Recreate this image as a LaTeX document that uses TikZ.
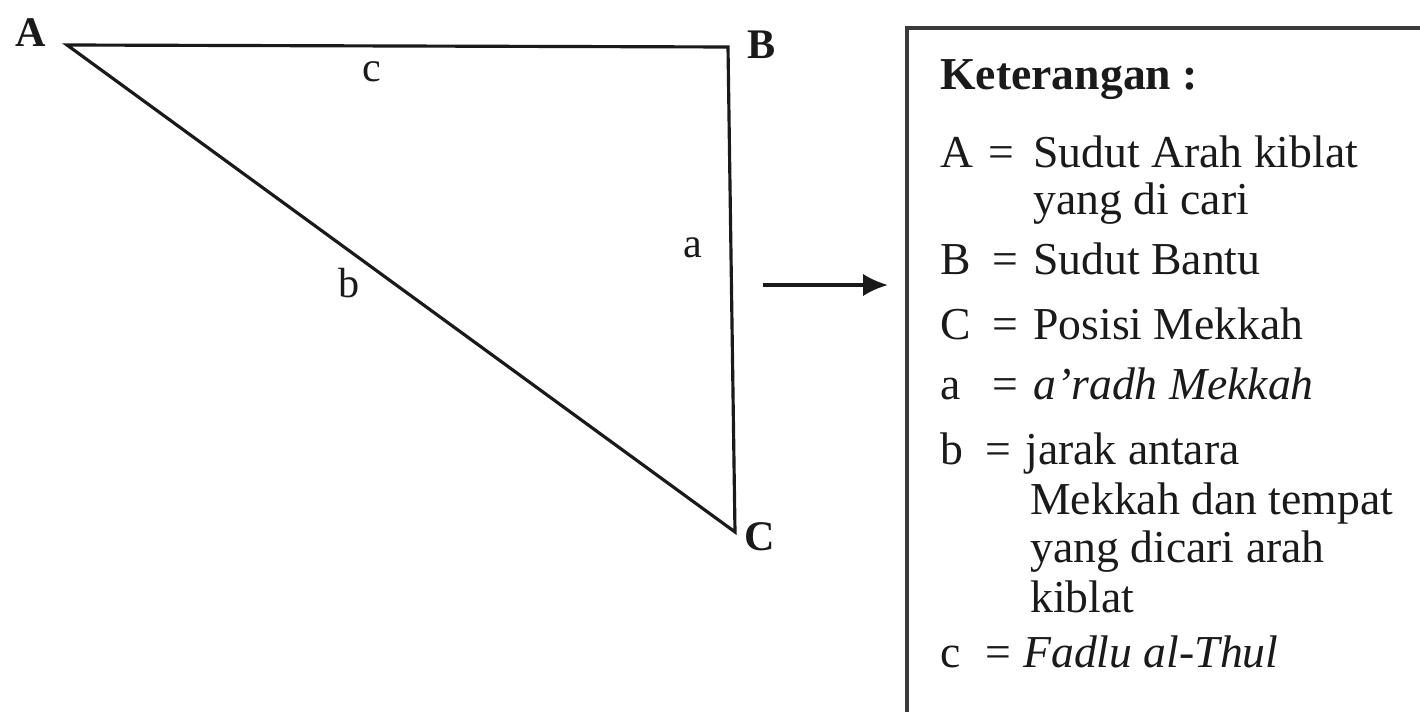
\documentclass[tikz,border=0pt]{standalone}
\usepackage{fontspec}
\setmainfont{Liberation Serif}
\usetikzlibrary{arrows.meta,positioning,calc}
\definecolor{Ink}{HTML}{1A1A1A}
\definecolor{Frame}{HTML}{3A3A3A}

\begin{document}
\begin{tikzpicture}[x=0.02cm,y=-0.02cm,>=Latex, side/.style={draw=Ink,line width=1.8pt,line join=miter}, corner/.style={font=\fontsize{24}{28}\selectfont\bfseries,text=Ink,inner sep=0pt}, sidelbl/.style={font=\fontsize{24}{28}\selectfont,text=Ink,inner sep=0pt}, key/.style={font=\fontsize{26}{30}\selectfont,text=Ink,anchor=base west,inner sep=0pt}, pointer/.style={draw=Ink,line width=2pt,arrows={-Latex[length=5mm,width=4.5mm]}}]
\useasboundingbox (0,0) rectangle (1420,712);
\fill[white] (0,0) rectangle (1420,712);
\coordinate (A) at (67,45);
\coordinate (B) at (728,47);
\coordinate (C) at (735,532);
\draw[side] (A) -- (B) -- (C) -- cycle;
\node[corner] (lblA) at (31,33) {A};
\node[corner] (lblB) at (762,45) {B};
\node[corner] (lblC) at (760,537) {C};
\node[sidelbl] (sidec) at (372,72) {c};
\node[sidelbl] (sideb) at (349,283) {b};
\node[sidelbl] (sidea) at (693,248) {a};
\coordinate (tail) at (763,285);
\coordinate (head) at (888,285);
\draw[pointer] (tail) -- (head);
\begin{scope}
\clip (0,0) rectangle (1420,712);
\draw[draw=Frame,line width=1.8pt] (907,28) rectangle (1440,740);
\end{scope}
\node[key,font=\fontsize{26}{30}\selectfont\bfseries] (title) at (940,90) {Keterangan :};
\node[key] (kA) at (940,168) {A};
\node[key] (eA) at (988,168) {=};
\node[key] (tA) at (1033,168) {Sudut Arah kiblat};
\node[key] (tA2) at (1033,215) {yang di cari};
\node[key] (kB) at (940,275) {B};
\node[key] (eB) at (992,275) {=};
\node[key] (tB) at (1033,275) {Sudut Bantu};
\node[key] (kC) at (940,340) {C};
\node[key] (eC) at (992,340) {=};
\node[key] (tC) at (1033,340) {Posisi Mekkah};
\node[key] (ka) at (940,400) {a};
\node[key] (ea) at (992,400) {=};
\node[key] (ta) at (1033,400) {\itshape a’radh Mekkah};
\node[key] (kb) at (940,465) {b};
\node[key] (eb) at (985,465) {=};
\node[key] (tb) at (1025,465) {jarak antara};
\node[key] (tb2) at (1030,515) {Mekkah dan tempat};
\node[key] (tb3) at (1030,562) {yang dicari arah};
\node[key] (tb4) at (1030,612) {kiblat};
\node[key] (kc) at (940,667) {c};
\node[key] (ec) at (985,667) {=};
\node[key] (tc) at (1023,667) {\itshape Fadlu al-Thul};
\end{tikzpicture}
\end{document}
